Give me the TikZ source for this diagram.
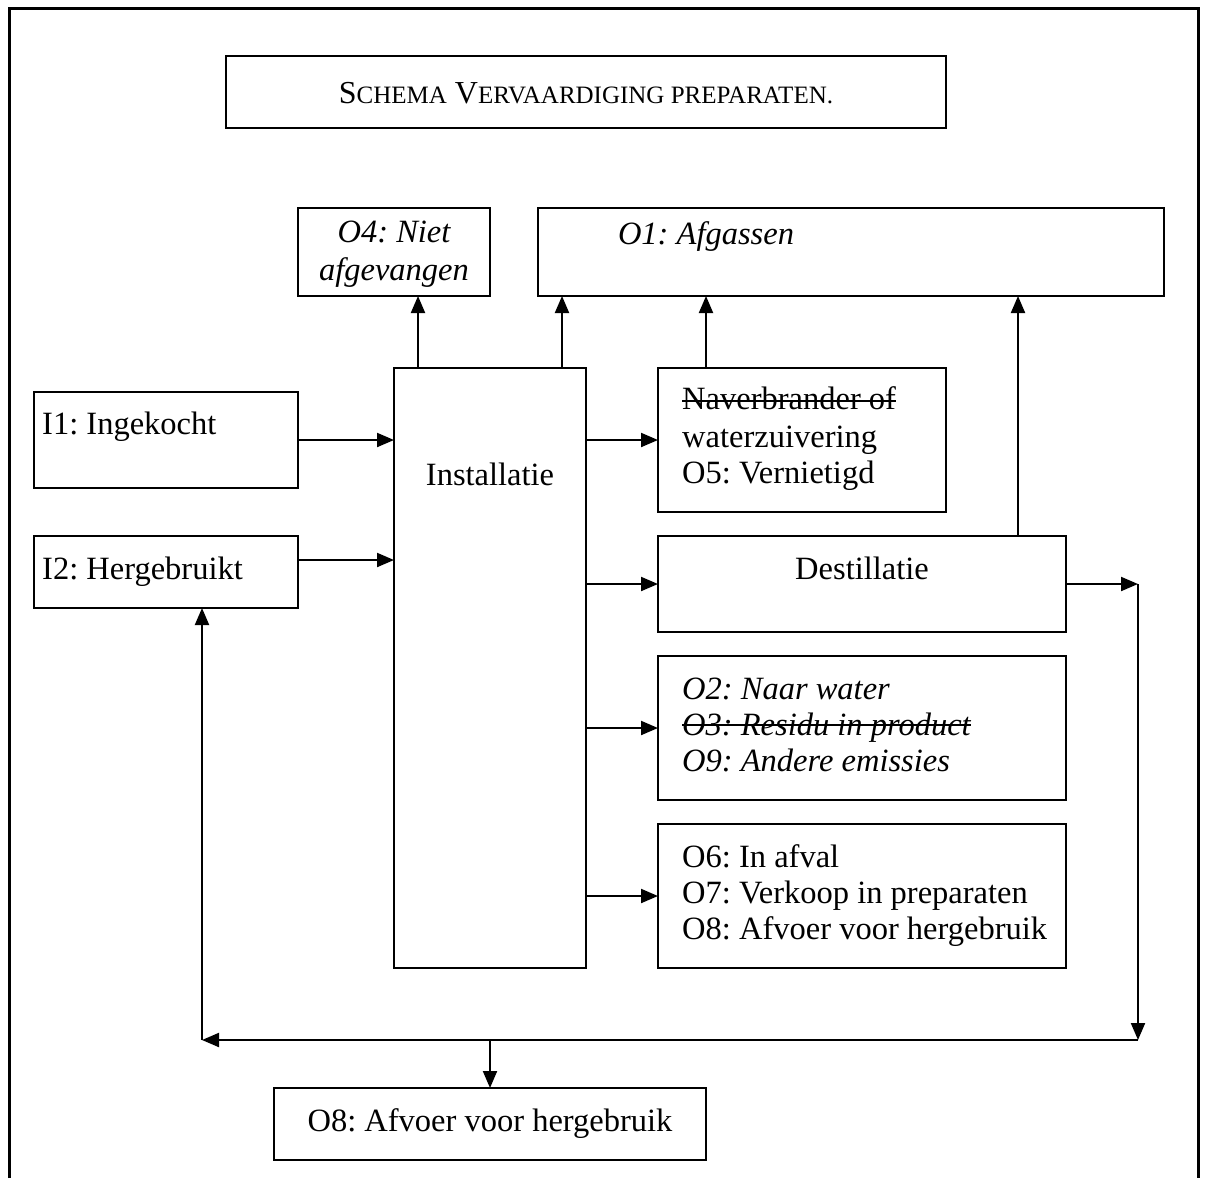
\documentclass[tikz,border=0pt]{standalone}
\usepackage{fontspec}
\setmainfont{Liberation Serif}
\usetikzlibrary{arrows.meta}
\frenchspacing
\begin{document}
\begin{tikzpicture}[x=1pt,y=-1pt,
  box/.style={draw,line width=2pt,rectangle,anchor=north west,inner sep=0pt,outer sep=0pt},
  txt/.style={inner sep=0pt,anchor=base west,font=\fontsize{32.5}{37}\selectfont},
  ctxt/.style={inner sep=0pt,anchor=base,font=\fontsize{32.5}{37}\selectfont},
  itx/.style={font=\fontsize{32.5}{37}\selectfont\itshape},
  arr/.style={line width=2pt,-{Triangle[length=17pt,width=14pt]}},
  ln/.style={line width=2pt},
  frame/.style={line width=3pt}]
\useasboundingbox (0,0) rectangle (1206,1178);
\draw[frame] (9,1178) -- (9,8) -- (1198,8) -- (1198,1178);
% boxes
\node[box,minimum width=720pt,minimum height=72pt] (title) at (226,56) {};
\node[box,minimum width=192pt,minimum height=88pt] (o4) at (298,208) {};
\node[box,minimum width=626pt,minimum height=88pt] (o1) at (538,208) {};
\node[box,minimum width=192pt,minimum height=600pt] (inst) at (394,368) {};
\node[box,minimum width=264pt,minimum height=96pt] (i1) at (34,392) {};
\node[box,minimum width=264pt,minimum height=72pt] (i2) at (34,536) {};
\node[box,minimum width=288pt,minimum height=144pt] (nav) at (658,368) {};
\node[box,minimum width=408pt,minimum height=96pt] (dest) at (658,536) {};
\node[box,minimum width=408pt,minimum height=144pt] (o2) at (658,656) {};
\node[box,minimum width=408pt,minimum height=144pt] (o6) at (658,824) {};
\node[box,minimum width=432pt,minimum height=72pt] (o8) at (274,1088) {};
% texts
\node[ctxt,font=\fontsize{32}{34}\selectfont] (ttl) at (586,103)
  {S{\fontsize{25}{27}\selectfont CHEMA} V{\fontsize{25}{27}\selectfont ERVAARDIGING PREPARATEN.}};
\node[ctxt,itx] (o4a) at (394,242) {O4: Niet};
\node[ctxt,itx] (o4b) at (394,280) {afgevangen};
\node[ctxt,itx] (o1t) at (706,244) {O1: Afgassen};
\node[ctxt] (instt) at (490,485) {Installatie};
\node[txt] (i1t) at (42,434) {I1: Ingekocht};
\node[txt] (i2t) at (42,579) {I2: Hergebruikt};
\node[txt] (nava) at (682,409) {Naverbrander of};
\node[txt] (navb) at (682,447) {waterzuivering};
\node[txt] (navc) at (682,483) {O5: Vernietigd};
\node[ctxt] (destt) at (862,579) {Destillatie};
\node[txt,itx] (o2a) at (682,699) {O2: Naar water};
\node[txt,itx] (o2b) at (682,735) {O3: Residu in product};
\node[txt,itx] (o2c) at (682,771) {O9: Andere emissies};
\node[txt] (o6a) at (682,867) {O6: In afval};
\node[txt] (o6b) at (682,903) {O7: Verkoop in preparaten};
\node[txt] (o6c) at (682,939) {O8: Afvoer voor hergebruik};
\node[ctxt] (o8t) at (490,1131) {O8: Afvoer voor hergebruik};
% strike-outs
\draw[ln] ([yshift=8pt]nava.base west) -- ([yshift=8pt]nava.base east);
\draw[ln] ([yshift=10pt]o2b.base west) -- ([yshift=10pt]o2b.base east);
% connectors
\coordinate (u1) at (418,368);
\coordinate (u2) at (562,368);
\coordinate (u3) at (706,368);
\coordinate (u4) at (1018,536);
\draw[arr] (u1) -- (u1 |- o4.south);
\draw[arr] (u2) -- (u2 |- o1.south);
\draw[arr] (u3) -- (u3 |- o1.south);
\draw[arr] (u4) -- (u4 |- o1.south);
\draw[arr] (i1.east) -- (i1.east -| inst.west);
\coordinate (i2o) at (298,560);
\draw[arr] (i2o) -- (i2o -| inst.west);
\draw[arr] (inst.east |- nav.west) -- (nav.west);
\draw[arr] (inst.east |- dest.west) -- (dest.west);
\draw[arr] (inst.east |- o2.west) -- (o2.west);
\draw[arr] (inst.east |- o6.west) -- (o6.west);
\coordinate (c1) at (1138,584);
\coordinate (c2) at (1138,1040);
\coordinate (c3) at (202,1040);
\coordinate (c4) at (490,1040);
\draw[arr] (dest.east) -- (c1);
\draw[arr] (c1) -- (c2);
\draw[arr] (c2) -- (c3);
\draw[arr] (c3) -- (c3 |- i2.south);
\draw[arr] (c4) -- (o8.north);
\end{tikzpicture}
\end{document}
